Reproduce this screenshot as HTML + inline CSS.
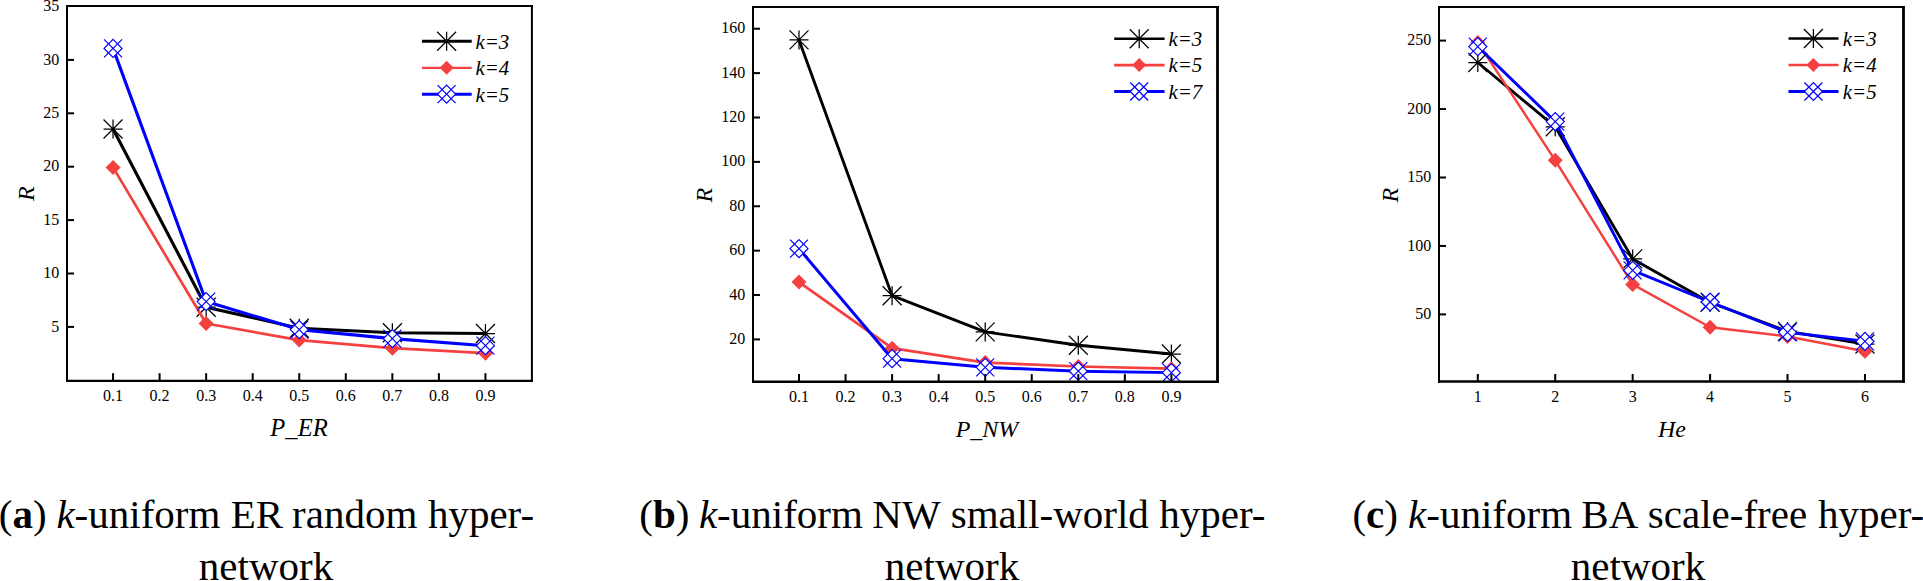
<!DOCTYPE html>
<html><head><meta charset="utf-8"><title>Figure</title>
<style>html,body{margin:0;padding:0;background:#fff;overflow:hidden}svg{display:block}text{font-family:"Liberation Serif",serif;fill:#000}</style>
</head><body>
<svg width="1923" height="581" viewBox="0 0 1923 581">
<rect width="1923" height="581" fill="#fff"/>
<clipPath id="cp1"><rect x="67.0" y="6.0" width="464.9" height="374.8"/></clipPath>
<g clip-path="url(#cp1)">
<path d="M113.05 129.00L206.15 307.20L299.25 328.20L392.35 332.80L485.45 333.50" stroke="#000" stroke-width="3.1" fill="none" stroke-linejoin="round"/>
<path d="M103.55 129.00H122.55M113.05 119.50V138.50M103.55 119.50L122.55 138.50M103.55 138.50L122.55 119.50" stroke="#000" stroke-width="1.25" fill="none"/>
<path d="M196.65 307.20H215.65M206.15 297.70V316.70M196.65 297.70L215.65 316.70M196.65 316.70L215.65 297.70" stroke="#000" stroke-width="1.25" fill="none"/>
<path d="M289.75 328.20H308.75M299.25 318.70V337.70M289.75 318.70L308.75 337.70M289.75 337.70L308.75 318.70" stroke="#000" stroke-width="1.25" fill="none"/>
<path d="M382.85 332.80H401.85M392.35 323.30V342.30M382.85 323.30L401.85 342.30M382.85 342.30L401.85 323.30" stroke="#000" stroke-width="1.25" fill="none"/>
<path d="M475.95 333.50H494.95M485.45 324.00V343.00M475.95 324.00L494.95 343.00M475.95 343.00L494.95 324.00" stroke="#000" stroke-width="1.25" fill="none"/>
<path d="M113.05 167.40L206.15 323.50L299.25 340.10L392.35 348.20L485.45 353.20" stroke="#f54040" stroke-width="2.7" fill="none" stroke-linejoin="round"/>
<path d="M105.55 167.40L113.05 159.90L120.55 167.40L113.05 174.90Z" fill="#f54040"/>
<path d="M198.65 323.50L206.15 316.00L213.65 323.50L206.15 331.00Z" fill="#f54040"/>
<path d="M291.75 340.10L299.25 332.60L306.75 340.10L299.25 347.60Z" fill="#f54040"/>
<path d="M384.85 348.20L392.35 340.70L399.85 348.20L392.35 355.70Z" fill="#f54040"/>
<path d="M477.95 353.20L485.45 345.70L492.95 353.20L485.45 360.70Z" fill="#f54040"/>
<path d="M113.05 48.40L206.15 301.60L299.25 329.60L392.35 338.60L485.45 345.70" stroke="#0000ff" stroke-width="3.1" fill="none" stroke-linejoin="round"/>
<path d="M104.05 48.40L113.05 39.40L122.05 48.40L113.05 57.40Z" fill="#fff" stroke="#0000ff" stroke-width="1.2"/><path d="M104.05 39.40L122.05 57.40M104.05 57.40L122.05 39.40" stroke="#0000ff" stroke-width="1.2" fill="none"/>
<path d="M197.15 301.60L206.15 292.60L215.15 301.60L206.15 310.60Z" fill="#fff" stroke="#0000ff" stroke-width="1.2"/><path d="M197.15 292.60L215.15 310.60M197.15 310.60L215.15 292.60" stroke="#0000ff" stroke-width="1.2" fill="none"/>
<path d="M290.25 329.60L299.25 320.60L308.25 329.60L299.25 338.60Z" fill="#fff" stroke="#0000ff" stroke-width="1.2"/><path d="M290.25 320.60L308.25 338.60M290.25 338.60L308.25 320.60" stroke="#0000ff" stroke-width="1.2" fill="none"/>
<path d="M383.35 338.60L392.35 329.60L401.35 338.60L392.35 347.60Z" fill="#fff" stroke="#0000ff" stroke-width="1.2"/><path d="M383.35 329.60L401.35 347.60M383.35 347.60L401.35 329.60" stroke="#0000ff" stroke-width="1.2" fill="none"/>
<path d="M476.45 345.70L485.45 336.70L494.45 345.70L485.45 354.70Z" fill="#fff" stroke="#0000ff" stroke-width="1.2"/><path d="M476.45 336.70L494.45 354.70M476.45 354.70L494.45 336.70" stroke="#0000ff" stroke-width="1.2" fill="none"/>
</g>
<path d="M422 41.2H471.7" stroke="#000" stroke-width="3.0"/>
<path d="M437.10 41.20H456.10M446.60 31.70V50.70M437.10 31.70L456.10 50.70M437.10 50.70L456.10 31.70" stroke="#000" stroke-width="1.25" fill="none"/>
<text x="475.5" y="48.5" font-size="22" font-style="italic" textLength="33.8" lengthAdjust="spacingAndGlyphs">k=3</text>
<path d="M422 67.8H471.7" stroke="#f54040" stroke-width="2.3"/>
<path d="M439.60 67.80L446.60 60.80L453.60 67.80L446.60 74.80Z" fill="#f54040"/>
<text x="475.5" y="75.1" font-size="22" font-style="italic" textLength="33.8" lengthAdjust="spacingAndGlyphs">k=4</text>
<path d="M422 94.2H471.7" stroke="#0000ff" stroke-width="3.0"/>
<path d="M437.60 94.20L446.60 85.20L455.60 94.20L446.60 103.20Z" fill="#fff" stroke="#0000ff" stroke-width="1.2"/><path d="M437.60 85.20L455.60 103.20M437.60 103.20L455.60 85.20" stroke="#0000ff" stroke-width="1.2" fill="none"/>
<text x="475.5" y="101.5" font-size="22" font-style="italic" textLength="33.8" lengthAdjust="spacingAndGlyphs">k=5</text>
<path d="M67.0 5.0V381.90000000000003" stroke="#000" stroke-width="2"/>
<path d="M531.9 5.0V381.90000000000003" stroke="#000" stroke-width="2"/>
<path d="M66.0 6.0H532.9" stroke="#000" stroke-width="2"/>
<path d="M66.0 380.8H532.9" stroke="#000" stroke-width="2.2"/>
<path d="M113.05 380.8V373.2" stroke="#000" stroke-width="2"/>
<text x="113.05" y="400.5" font-size="16" text-anchor="middle">0.1</text>
<path d="M159.60 380.8V373.2" stroke="#000" stroke-width="2"/>
<text x="159.60" y="400.5" font-size="16" text-anchor="middle">0.2</text>
<path d="M206.15 380.8V373.2" stroke="#000" stroke-width="2"/>
<text x="206.15" y="400.5" font-size="16" text-anchor="middle">0.3</text>
<path d="M252.70 380.8V373.2" stroke="#000" stroke-width="2"/>
<text x="252.70" y="400.5" font-size="16" text-anchor="middle">0.4</text>
<path d="M299.25 380.8V373.2" stroke="#000" stroke-width="2"/>
<text x="299.25" y="400.5" font-size="16" text-anchor="middle">0.5</text>
<path d="M345.80 380.8V373.2" stroke="#000" stroke-width="2"/>
<text x="345.80" y="400.5" font-size="16" text-anchor="middle">0.6</text>
<path d="M392.35 380.8V373.2" stroke="#000" stroke-width="2"/>
<text x="392.35" y="400.5" font-size="16" text-anchor="middle">0.7</text>
<path d="M438.90 380.8V373.2" stroke="#000" stroke-width="2"/>
<text x="438.90" y="400.5" font-size="16" text-anchor="middle">0.8</text>
<path d="M485.45 380.8V373.2" stroke="#000" stroke-width="2"/>
<text x="485.45" y="400.5" font-size="16" text-anchor="middle">0.9</text>
<path d="M67.0 326.90H74.0" stroke="#000" stroke-width="2"/>
<text x="59.20" y="331.50" font-size="16" text-anchor="end">5</text>
<path d="M67.0 273.50H74.0" stroke="#000" stroke-width="2"/>
<text x="59.20" y="278.10" font-size="16" text-anchor="end">10</text>
<path d="M67.0 220.10H74.0" stroke="#000" stroke-width="2"/>
<text x="59.20" y="224.70" font-size="16" text-anchor="end">15</text>
<path d="M67.0 166.70H74.0" stroke="#000" stroke-width="2"/>
<text x="59.20" y="171.30" font-size="16" text-anchor="end">20</text>
<path d="M67.0 113.30H74.0" stroke="#000" stroke-width="2"/>
<text x="59.20" y="117.90" font-size="16" text-anchor="end">25</text>
<path d="M67.0 59.90H74.0" stroke="#000" stroke-width="2"/>
<text x="59.20" y="64.50" font-size="16" text-anchor="end">30</text>
<text x="59.20" y="11.10" font-size="16" text-anchor="end">35</text>
<text x="299" y="435.8" font-size="24.6" font-style="italic" text-anchor="middle">P_ER</text>
<text transform="translate(33.7 193.7) rotate(-90)" font-size="24" font-style="italic" text-anchor="middle">R</text>
<clipPath id="cp2"><rect x="753.0" y="7.0" width="464.5" height="374.7"/></clipPath>
<g clip-path="url(#cp2)">
<path d="M799.00 39.90L892.10 295.70L985.20 331.90L1078.30 345.30L1171.40 354.00" stroke="#000" stroke-width="2.9" fill="none" stroke-linejoin="round"/>
<path d="M789.50 39.90H808.50M799.00 30.40V49.40M789.50 30.40L808.50 49.40M789.50 49.40L808.50 30.40" stroke="#000" stroke-width="1.25" fill="none"/>
<path d="M882.60 295.70H901.60M892.10 286.20V305.20M882.60 286.20L901.60 305.20M882.60 305.20L901.60 286.20" stroke="#000" stroke-width="1.25" fill="none"/>
<path d="M975.70 331.90H994.70M985.20 322.40V341.40M975.70 322.40L994.70 341.40M975.70 341.40L994.70 322.40" stroke="#000" stroke-width="1.25" fill="none"/>
<path d="M1068.80 345.30H1087.80M1078.30 335.80V354.80M1068.80 335.80L1087.80 354.80M1068.80 354.80L1087.80 335.80" stroke="#000" stroke-width="1.25" fill="none"/>
<path d="M1161.90 354.00H1180.90M1171.40 344.50V363.50M1161.90 344.50L1180.90 363.50M1161.90 363.50L1180.90 344.50" stroke="#000" stroke-width="1.25" fill="none"/>
<path d="M799.00 282.10L892.10 348.20L985.20 362.60L1078.30 366.50L1171.40 368.70" stroke="#f54040" stroke-width="2.7" fill="none" stroke-linejoin="round"/>
<path d="M791.50 282.10L799.00 274.60L806.50 282.10L799.00 289.60Z" fill="#f54040"/>
<path d="M884.60 348.20L892.10 340.70L899.60 348.20L892.10 355.70Z" fill="#f54040"/>
<path d="M977.70 362.60L985.20 355.10L992.70 362.60L985.20 370.10Z" fill="#f54040"/>
<path d="M1070.80 366.50L1078.30 359.00L1085.80 366.50L1078.30 374.00Z" fill="#f54040"/>
<path d="M1163.90 368.70L1171.40 361.20L1178.90 368.70L1171.40 376.20Z" fill="#f54040"/>
<path d="M799.00 248.70L892.10 358.70L985.20 367.30L1078.30 371.20L1171.40 372.65" stroke="#0000ff" stroke-width="2.95" fill="none" stroke-linejoin="round"/>
<path d="M790.00 248.70L799.00 239.70L808.00 248.70L799.00 257.70Z" fill="#fff" stroke="#0000ff" stroke-width="1.2"/><path d="M790.00 239.70L808.00 257.70M790.00 257.70L808.00 239.70" stroke="#0000ff" stroke-width="1.2" fill="none"/>
<path d="M883.10 358.70L892.10 349.70L901.10 358.70L892.10 367.70Z" fill="#fff" stroke="#0000ff" stroke-width="1.2"/><path d="M883.10 349.70L901.10 367.70M883.10 367.70L901.10 349.70" stroke="#0000ff" stroke-width="1.2" fill="none"/>
<path d="M976.20 367.30L985.20 358.30L994.20 367.30L985.20 376.30Z" fill="#fff" stroke="#0000ff" stroke-width="1.2"/><path d="M976.20 358.30L994.20 376.30M976.20 376.30L994.20 358.30" stroke="#0000ff" stroke-width="1.2" fill="none"/>
<path d="M1069.30 371.20L1078.30 362.20L1087.30 371.20L1078.30 380.20Z" fill="#fff" stroke="#0000ff" stroke-width="1.2"/><path d="M1069.30 362.20L1087.30 380.20M1069.30 380.20L1087.30 362.20" stroke="#0000ff" stroke-width="1.2" fill="none"/>
<path d="M1162.40 372.65L1171.40 363.65L1180.40 372.65L1171.40 381.65Z" fill="#fff" stroke="#0000ff" stroke-width="1.2"/><path d="M1162.40 363.65L1180.40 381.65M1162.40 381.65L1180.40 363.65" stroke="#0000ff" stroke-width="1.2" fill="none"/>
</g>
<path d="M1114.2 38.7H1164.6" stroke="#000" stroke-width="2.5"/>
<path d="M1129.70 38.70H1148.70M1139.20 29.20V48.20M1129.70 29.20L1148.70 48.20M1129.70 48.20L1148.70 29.20" stroke="#000" stroke-width="1.25" fill="none"/>
<text x="1168.5" y="46.0" font-size="22" font-style="italic" textLength="33.8" lengthAdjust="spacingAndGlyphs">k=3</text>
<path d="M1114.2 65.1H1164.6" stroke="#f54040" stroke-width="2.8"/>
<path d="M1132.20 65.10L1139.20 58.10L1146.20 65.10L1139.20 72.10Z" fill="#f54040"/>
<text x="1168.5" y="72.4" font-size="22" font-style="italic" textLength="33.8" lengthAdjust="spacingAndGlyphs">k=5</text>
<path d="M1114.2 91.5H1164.6" stroke="#0000ff" stroke-width="3.2"/>
<path d="M1130.20 91.50L1139.20 82.50L1148.20 91.50L1139.20 100.50Z" fill="#fff" stroke="#0000ff" stroke-width="1.2"/><path d="M1130.20 82.50L1148.20 100.50M1130.20 100.50L1148.20 82.50" stroke="#0000ff" stroke-width="1.2" fill="none"/>
<text x="1168.5" y="98.8" font-size="22" font-style="italic" textLength="33.8" lengthAdjust="spacingAndGlyphs">k=7</text>
<path d="M753.0 6.0V382.95" stroke="#000" stroke-width="2"/>
<path d="M1217.5 6.0V382.95" stroke="#000" stroke-width="2.8"/>
<path d="M752.0 7.0H1218.9" stroke="#000" stroke-width="2"/>
<path d="M752.0 381.7H1218.9" stroke="#000" stroke-width="2.5"/>
<path d="M799.00 381.7V374.09999999999997" stroke="#000" stroke-width="2"/>
<text x="799.00" y="401.6" font-size="16" text-anchor="middle">0.1</text>
<path d="M845.55 381.7V374.09999999999997" stroke="#000" stroke-width="2"/>
<text x="845.55" y="401.6" font-size="16" text-anchor="middle">0.2</text>
<path d="M892.10 381.7V374.09999999999997" stroke="#000" stroke-width="2"/>
<text x="892.10" y="401.6" font-size="16" text-anchor="middle">0.3</text>
<path d="M938.65 381.7V374.09999999999997" stroke="#000" stroke-width="2"/>
<text x="938.65" y="401.6" font-size="16" text-anchor="middle">0.4</text>
<path d="M985.20 381.7V374.09999999999997" stroke="#000" stroke-width="2"/>
<text x="985.20" y="401.6" font-size="16" text-anchor="middle">0.5</text>
<path d="M1031.75 381.7V374.09999999999997" stroke="#000" stroke-width="2"/>
<text x="1031.75" y="401.6" font-size="16" text-anchor="middle">0.6</text>
<path d="M1078.30 381.7V374.09999999999997" stroke="#000" stroke-width="2"/>
<text x="1078.30" y="401.6" font-size="16" text-anchor="middle">0.7</text>
<path d="M1124.85 381.7V374.09999999999997" stroke="#000" stroke-width="2"/>
<text x="1124.85" y="401.6" font-size="16" text-anchor="middle">0.8</text>
<path d="M1171.40 381.7V374.09999999999997" stroke="#000" stroke-width="2"/>
<text x="1171.40" y="401.6" font-size="16" text-anchor="middle">0.9</text>
<path d="M753.0 339.40H760.0" stroke="#000" stroke-width="2"/>
<text x="745.20" y="344.00" font-size="16" text-anchor="end">20</text>
<path d="M753.0 295.02H760.0" stroke="#000" stroke-width="2"/>
<text x="745.20" y="299.62" font-size="16" text-anchor="end">40</text>
<path d="M753.0 250.64H760.0" stroke="#000" stroke-width="2"/>
<text x="745.20" y="255.24" font-size="16" text-anchor="end">60</text>
<path d="M753.0 206.26H760.0" stroke="#000" stroke-width="2"/>
<text x="745.20" y="210.86" font-size="16" text-anchor="end">80</text>
<path d="M753.0 161.88H760.0" stroke="#000" stroke-width="2"/>
<text x="745.20" y="166.48" font-size="16" text-anchor="end">100</text>
<path d="M753.0 117.50H760.0" stroke="#000" stroke-width="2"/>
<text x="745.20" y="122.10" font-size="16" text-anchor="end">120</text>
<path d="M753.0 73.12H760.0" stroke="#000" stroke-width="2"/>
<text x="745.20" y="77.72" font-size="16" text-anchor="end">140</text>
<path d="M753.0 28.74H760.0" stroke="#000" stroke-width="2"/>
<text x="745.20" y="33.34" font-size="16" text-anchor="end">160</text>
<text x="987" y="437" font-size="24" font-style="italic" text-anchor="middle">P_NW</text>
<text transform="translate(711.9 195.1) rotate(-90)" font-size="24" font-style="italic" text-anchor="middle">R</text>
<clipPath id="cp3"><rect x="1439.0" y="7.0" width="464.5" height="374.6"/></clipPath>
<g clip-path="url(#cp3)">
<path d="M1477.80 62.50L1555.23 126.80L1632.66 258.90L1710.09 302.40L1787.52 331.40L1864.95 344.00" stroke="#000" stroke-width="2.85" fill="none" stroke-linejoin="round"/>
<path d="M1468.30 62.50H1487.30M1477.80 53.00V72.00M1468.30 53.00L1487.30 72.00M1468.30 72.00L1487.30 53.00" stroke="#000" stroke-width="1.25" fill="none"/>
<path d="M1545.73 126.80H1564.73M1555.23 117.30V136.30M1545.73 117.30L1564.73 136.30M1545.73 136.30L1564.73 117.30" stroke="#000" stroke-width="1.25" fill="none"/>
<path d="M1623.16 258.90H1642.16M1632.66 249.40V268.40M1623.16 249.40L1642.16 268.40M1623.16 268.40L1642.16 249.40" stroke="#000" stroke-width="1.25" fill="none"/>
<path d="M1700.59 302.40H1719.59M1710.09 292.90V311.90M1700.59 292.90L1719.59 311.90M1700.59 311.90L1719.59 292.90" stroke="#000" stroke-width="1.25" fill="none"/>
<path d="M1778.02 331.40H1797.02M1787.52 321.90V340.90M1778.02 321.90L1797.02 340.90M1778.02 340.90L1797.02 321.90" stroke="#000" stroke-width="1.25" fill="none"/>
<path d="M1855.45 344.00H1874.45M1864.95 334.50V353.50M1855.45 334.50L1874.45 353.50M1855.45 353.50L1874.45 334.50" stroke="#000" stroke-width="1.25" fill="none"/>
<path d="M1477.80 42.40L1555.23 160.30L1632.66 284.40L1710.09 327.20L1787.52 336.50L1864.95 351.20" stroke="#f54040" stroke-width="2.45" fill="none" stroke-linejoin="round"/>
<path d="M1470.30 42.40L1477.80 34.90L1485.30 42.40L1477.80 49.90Z" fill="#f54040"/>
<path d="M1547.73 160.30L1555.23 152.80L1562.73 160.30L1555.23 167.80Z" fill="#f54040"/>
<path d="M1625.16 284.40L1632.66 276.90L1640.16 284.40L1632.66 291.90Z" fill="#f54040"/>
<path d="M1702.59 327.20L1710.09 319.70L1717.59 327.20L1710.09 334.70Z" fill="#f54040"/>
<path d="M1780.02 336.50L1787.52 329.00L1795.02 336.50L1787.52 344.00Z" fill="#f54040"/>
<path d="M1857.45 351.20L1864.95 343.70L1872.45 351.20L1864.95 358.70Z" fill="#f54040"/>
<path d="M1477.80 46.60L1555.23 121.60L1632.66 270.40L1710.09 302.00L1787.52 332.40L1864.95 341.30" stroke="#0000ff" stroke-width="2.9" fill="none" stroke-linejoin="round"/>
<path d="M1468.80 46.60L1477.80 37.60L1486.80 46.60L1477.80 55.60Z" fill="#fff" stroke="#0000ff" stroke-width="1.2"/><path d="M1468.80 37.60L1486.80 55.60M1468.80 55.60L1486.80 37.60" stroke="#0000ff" stroke-width="1.2" fill="none"/>
<path d="M1546.23 121.60L1555.23 112.60L1564.23 121.60L1555.23 130.60Z" fill="#fff" stroke="#0000ff" stroke-width="1.2"/><path d="M1546.23 112.60L1564.23 130.60M1546.23 130.60L1564.23 112.60" stroke="#0000ff" stroke-width="1.2" fill="none"/>
<path d="M1623.66 270.40L1632.66 261.40L1641.66 270.40L1632.66 279.40Z" fill="#fff" stroke="#0000ff" stroke-width="1.2"/><path d="M1623.66 261.40L1641.66 279.40M1623.66 279.40L1641.66 261.40" stroke="#0000ff" stroke-width="1.2" fill="none"/>
<path d="M1701.09 302.00L1710.09 293.00L1719.09 302.00L1710.09 311.00Z" fill="#fff" stroke="#0000ff" stroke-width="1.2"/><path d="M1701.09 293.00L1719.09 311.00M1701.09 311.00L1719.09 293.00" stroke="#0000ff" stroke-width="1.2" fill="none"/>
<path d="M1778.52 332.40L1787.52 323.40L1796.52 332.40L1787.52 341.40Z" fill="#fff" stroke="#0000ff" stroke-width="1.2"/><path d="M1778.52 323.40L1796.52 341.40M1778.52 341.40L1796.52 323.40" stroke="#0000ff" stroke-width="1.2" fill="none"/>
<path d="M1855.95 341.30L1864.95 332.30L1873.95 341.30L1864.95 350.30Z" fill="#fff" stroke="#0000ff" stroke-width="1.2"/><path d="M1855.95 332.30L1873.95 350.30M1855.95 350.30L1873.95 332.30" stroke="#0000ff" stroke-width="1.2" fill="none"/>
</g>
<path d="M1788.5 38.5H1838.5" stroke="#000" stroke-width="2.5"/>
<path d="M1803.90 38.50H1822.90M1813.40 29.00V48.00M1803.90 29.00L1822.90 48.00M1803.90 48.00L1822.90 29.00" stroke="#000" stroke-width="1.25" fill="none"/>
<text x="1842.8" y="45.8" font-size="22" font-style="italic" textLength="33.8" lengthAdjust="spacingAndGlyphs">k=3</text>
<path d="M1788.5 65.1H1838.5" stroke="#f54040" stroke-width="2.5"/>
<path d="M1806.40 65.10L1813.40 58.10L1820.40 65.10L1813.40 72.10Z" fill="#f54040"/>
<text x="1842.8" y="72.4" font-size="22" font-style="italic" textLength="33.8" lengthAdjust="spacingAndGlyphs">k=4</text>
<path d="M1788.5 91.5H1838.5" stroke="#0000ff" stroke-width="3.2"/>
<path d="M1804.40 91.50L1813.40 82.50L1822.40 91.50L1813.40 100.50Z" fill="#fff" stroke="#0000ff" stroke-width="1.2"/><path d="M1804.40 82.50L1822.40 100.50M1804.40 100.50L1822.40 82.50" stroke="#0000ff" stroke-width="1.2" fill="none"/>
<text x="1842.8" y="98.8" font-size="22" font-style="italic" textLength="33.8" lengthAdjust="spacingAndGlyphs">k=5</text>
<path d="M1439.0 6.0V382.85" stroke="#000" stroke-width="2"/>
<path d="M1903.5 6.0V382.85" stroke="#000" stroke-width="2.8"/>
<path d="M1438.0 7.0H1904.9" stroke="#000" stroke-width="2"/>
<path d="M1438.0 381.6H1904.9" stroke="#000" stroke-width="2.5"/>
<path d="M1477.80 381.6V374.0" stroke="#000" stroke-width="2"/>
<text x="1477.80" y="401.8" font-size="16" text-anchor="middle">1</text>
<path d="M1555.23 381.6V374.0" stroke="#000" stroke-width="2"/>
<text x="1555.23" y="401.8" font-size="16" text-anchor="middle">2</text>
<path d="M1632.66 381.6V374.0" stroke="#000" stroke-width="2"/>
<text x="1632.66" y="401.8" font-size="16" text-anchor="middle">3</text>
<path d="M1710.09 381.6V374.0" stroke="#000" stroke-width="2"/>
<text x="1710.09" y="401.8" font-size="16" text-anchor="middle">4</text>
<path d="M1787.52 381.6V374.0" stroke="#000" stroke-width="2"/>
<text x="1787.52" y="401.8" font-size="16" text-anchor="middle">5</text>
<path d="M1864.95 381.6V374.0" stroke="#000" stroke-width="2"/>
<text x="1864.95" y="401.8" font-size="16" text-anchor="middle">6</text>
<path d="M1439.0 314.40H1446.0" stroke="#000" stroke-width="2"/>
<text x="1431.20" y="319.00" font-size="16" text-anchor="end">50</text>
<path d="M1439.0 245.95H1446.0" stroke="#000" stroke-width="2"/>
<text x="1431.20" y="250.55" font-size="16" text-anchor="end">100</text>
<path d="M1439.0 177.50H1446.0" stroke="#000" stroke-width="2"/>
<text x="1431.20" y="182.10" font-size="16" text-anchor="end">150</text>
<path d="M1439.0 109.05H1446.0" stroke="#000" stroke-width="2"/>
<text x="1431.20" y="113.65" font-size="16" text-anchor="end">200</text>
<path d="M1439.0 40.60H1446.0" stroke="#000" stroke-width="2"/>
<text x="1431.20" y="45.20" font-size="16" text-anchor="end">250</text>
<text x="1672" y="437" font-size="24" font-style="italic" text-anchor="middle">He</text>
<text transform="translate(1397.9 195.1) rotate(-90)" font-size="24" font-style="italic" text-anchor="middle">R</text>
<text x="-1.2" y="527.7" font-size="41">(<tspan font-weight="bold">a</tspan>)</text>
<text x="56.4" y="527.7" font-size="41"><tspan font-style="italic">k</tspan>-uniform</text>
<text x="230.7" y="527.7" font-size="41">ER</text>
<text x="292.1" y="527.7" font-size="41">random</text>
<text x="427.9" y="527.7" font-size="41">hyper-</text>
<text x="639.3" y="527.7" font-size="41">(<tspan font-weight="bold">b</tspan>)</text>
<text x="698.9" y="527.7" font-size="41"><tspan font-style="italic">k</tspan>-uniform</text>
<text x="872.3" y="527.7" font-size="41">NW</text>
<text x="950.7" y="527.7" font-size="41">small-world</text>
<text x="1159.2" y="527.7" font-size="41">hyper-</text>
<text x="1352.4" y="527.7" font-size="41">(<tspan font-weight="bold">c</tspan>)</text>
<text x="1408.1" y="527.7" font-size="41"><tspan font-style="italic">k</tspan>-uniform</text>
<text x="1581.3" y="527.7" font-size="41">BA</text>
<text x="1647.8" y="527.7" font-size="41">scale-free</text>
<text x="1818.0" y="527.7" font-size="41">hyper-</text>
<text x="198.8" y="579.6" font-size="41">network</text>
<text x="884.8" y="579.6" font-size="41">network</text>
<text x="1570.8" y="579.6" font-size="41">network</text>
</svg>
</body></html>
